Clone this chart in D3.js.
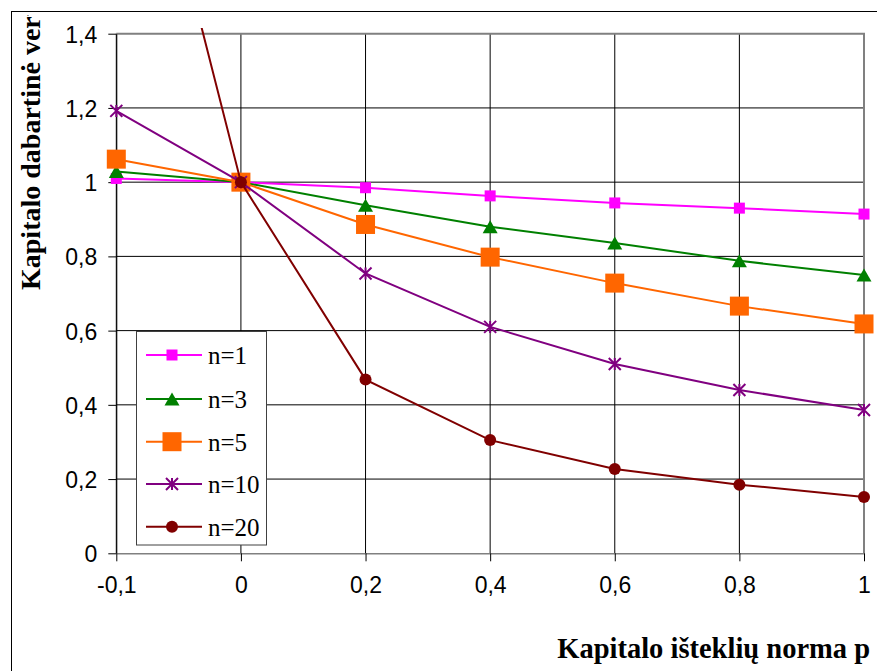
<!DOCTYPE html>
<html>
<head>
<meta charset="utf-8">
<script src="https://cdn.jsdelivr.net/npm/d3@7/dist/d3.min.js"></script>
<style>
  html, body { margin: 0; padding: 0; background: #fff; }
  svg { display: block; }
</style>
</head>
<body>
<div id="chart"></div>
<script>
// Rate categories (evenly spaced on the horizontal axis)
const categories = ["-0,1", "0", "0,2", "0,4", "0,6", "0,8", "1"];

// Present value of capital for each term n
const seriesN1  = [1.010, 1, 0.985, 0.963, 0.944, 0.930, 0.914];
const seriesN3  = [1.029, 1, 0.938, 0.880, 0.836, 0.788, 0.750];
const seriesN5  = [1.062, 1, 0.886, 0.798, 0.728, 0.666, 0.618];
const seriesN10 = [1.192, 1, 0.754, 0.610, 0.510, 0.440, 0.386];
const seriesN20 = [2.32,  1, 0.468, 0.305, 0.227, 0.185, 0.152];

const seriesNames = ["n=1", "n=3", "n=5", "n=10", "n=20"];
const yTicks = [0, 0.2, 0.4, 0.6, 0.8, 1, 1.2, 1.4];
const yTickLabels = ["0", "0,2", "0,4", "0,6", "0,8", "1", "1,2", "1,4"];

const xTitle = "Kapitalo išteklių norma p";
const yTitle = "Kapitalo dabartinė vertė";

const W = 877, H = 671;
const plot = { left: 116.3, right: 864, top: 33.7, bottom: 553.3 };

const series = [
  { name: seriesNames[0], values: seriesN1,  color: "#FF00FF", marker: "square",   size: 11 },
  { name: seriesNames[1], values: seriesN3,  color: "#008000", marker: "triangle", size: 15 },
  { name: seriesNames[2], values: seriesN5,  color: "#FF6600", marker: "square",   size: 19 },
  { name: seriesNames[3], values: seriesN10, color: "#800080", marker: "star",     size: 12 },
  { name: seriesNames[4], values: seriesN20, color: "#800000", marker: "circle",   size: 12 }
];

const sansFont = "'Liberation Sans', Arial, sans-serif";
const serifFont = "'Liberation Serif', 'Times New Roman', serif";

const svg = d3.select("#chart").append("svg")
  .attr("width", W).attr("height", H);

// Chart frame
svg.append("rect")
  .attr("x", 11.5).attr("y", 11.5)
  .attr("width", W + 20).attr("height", H + 20)
  .attr("fill", "#fff").attr("stroke", "#000").attr("stroke-width", 1);

const x = d3.scalePoint().domain(categories).range([plot.left, plot.right]).padding(0);
const y = d3.scaleLinear().domain([0, 1.4]).range([plot.bottom, plot.top]);

// Gridlines
const grid = svg.append("g");
grid.selectAll("line.h").data(yTicks.filter(v => v > 0 && v < 1.4)).join("line")
  .attr("x1", plot.left).attr("x2", plot.right)
  .attr("y1", d => y(d)).attr("y2", d => y(d))
  .attr("stroke", "#000").attr("stroke-width", 1);
grid.selectAll("line.v").data(categories.slice(0, -1)).join("line")
  .attr("x1", d => x(d)).attr("x2", d => x(d))
  .attr("y1", plot.top).attr("y2", plot.bottom)
  .attr("stroke", "#000").attr("stroke-width", 1);

// Plot area border (top and right)
svg.append("path")
  .attr("d", `M${plot.left},${plot.top}H${plot.right}V${plot.bottom}`)
  .attr("fill", "none").attr("stroke", "#808080").attr("stroke-width", 2);

// Y axis
const yAxis = svg.append("g")
  .attr("transform", `translate(${plot.left},0)`)
  .call(d3.axisLeft(y).tickValues(yTicks)
    .tickFormat((d, i) => yTickLabels[i]).tickSizeInner(8).tickSizeOuter(0).tickPadding(11));
yAxis.select(".domain").attr("stroke", "#000");
yAxis.selectAll(".tick line").attr("stroke", "#000");
yAxis.selectAll(".tick text")
  .attr("font-family", sansFont)
  .attr("font-size", 23).attr("fill", "#000").attr("dy", "0.37em");

// X axis
const xAxis = svg.append("g")
  .attr("transform", `translate(0,${plot.bottom})`)
  .call(d3.axisBottom(x).tickSizeInner(8).tickSizeOuter(0).tickPadding(15));
xAxis.select(".domain").attr("stroke", "#808080").attr("stroke-width", 1.5);
xAxis.selectAll(".tick line").attr("stroke", "#000");
xAxis.selectAll(".tick text")
  .attr("font-family", sansFont)
  .attr("font-size", 23).attr("fill", "#000");

// Clips for series lines and the vertical title
const defs = svg.append("defs");
defs.append("clipPath").attr("id", "lineClip")
  .append("rect").attr("x", 0).attr("y", 28).attr("width", W).attr("height", H - 28);
defs.append("clipPath").attr("id", "titleClip")
  .append("rect").attr("x", 0).attr("y", 15).attr("width", W).attr("height", H - 15);

const line = d3.line().x((d, i) => x(categories[i])).y(d => y(d));

function drawMarker(g, s, cx, cy) {
  const r = s.size / 2;
  if (s.marker === "square") {
    g.append("rect").attr("x", cx - r).attr("y", cy - r)
      .attr("width", s.size).attr("height", s.size).attr("fill", s.color);
  } else if (s.marker === "triangle") {
    const h = s.size * 0.87;
    g.append("path")
      .attr("d", `M${cx},${cy - h / 2}L${cx + r},${cy + h / 2}L${cx - r},${cy + h / 2}Z`)
      .attr("fill", s.color);
  } else if (s.marker === "circle") {
    g.append("circle").attr("cx", cx).attr("cy", cy).attr("r", r).attr("fill", s.color);
  } else if (s.marker === "star") {
    g.append("path")
      .attr("d", `M${cx - r},${cy - r}L${cx + r},${cy + r}M${cx + r},${cy - r}L${cx - r},${cy + r}M${cx},${cy - r}V${cy + r}`)
      .attr("stroke", s.color).attr("stroke-width", 2).attr("fill", "none");
  }
}

// Series lines and markers
series.forEach(s => {
  const g = svg.append("g");
  g.append("path").datum(s.values)
    .attr("d", line)
    .attr("clip-path", "url(#lineClip)")
    .attr("fill", "none").attr("stroke", s.color).attr("stroke-width", 2);
  s.values.forEach((v, i) => {
    if (v <= 1.4) drawMarker(g, s, x(categories[i]), y(v));
  });
});

// Legend
const legend = svg.append("g");
legend.append("rect")
  .attr("x", 136.5).attr("y", 331.5).attr("width", 130).attr("height", 213.5)
  .attr("fill", "#fff").attr("stroke", "#404040").attr("stroke-width", 1);
const rowY = [355, 399, 441.7, 484, 526.7];
series.forEach((s, i) => {
  const ry = rowY[i];
  legend.append("line")
    .attr("x1", 146).attr("x2", 202).attr("y1", ry).attr("y2", ry)
    .attr("stroke", s.color).attr("stroke-width", 2);
  drawMarker(legend, s, 172, ry);
  legend.append("text")
    .attr("x", 208).attr("y", ry + 9)
    .attr("font-family", serifFont)
    .attr("font-size", 25).attr("fill", "#000")
    .text(s.name);
});

// Axis titles
svg.append("text")
  .attr("x", 870).attr("y", 658)
  .attr("text-anchor", "end")
  .attr("font-family", serifFont)
  .attr("font-weight", "bold").attr("font-size", 28.5).attr("fill", "#000")
  .text(xTitle);

svg.append("g").attr("clip-path", "url(#titleClip)")
  .append("text")
  .attr("transform", "translate(40,290) rotate(-90)")
  .attr("font-family", serifFont)
  .attr("font-weight", "bold").attr("font-size", 28).attr("fill", "#000")
  .text(yTitle);
</script>
</body>
</html>
